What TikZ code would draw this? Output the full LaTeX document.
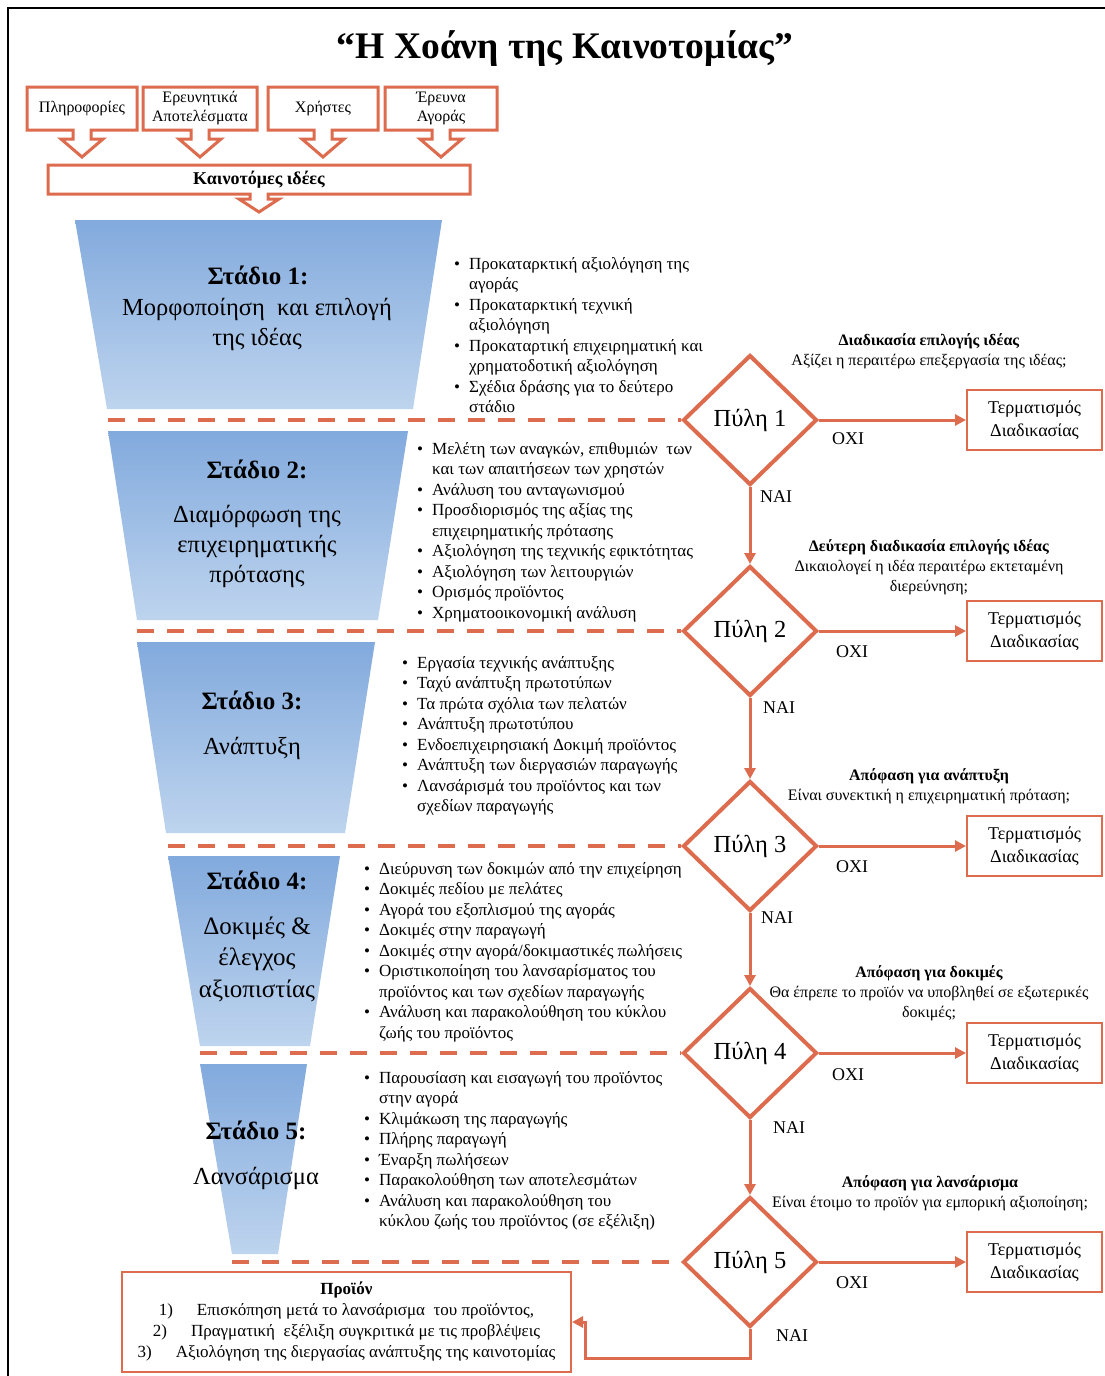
\documentclass[tikz,border=0pt]{standalone}
\usepackage{fontspec}
\setmainfont{Liberation Serif}
\usetikzlibrary{shapes.geometric,arrows.meta}
\definecolor{org}{RGB}{221,107,77}
\definecolor{btop}{RGB}{130,170,221}
\definecolor{bbot}{RGB}{190,212,238}
\newcommand{\mlc}[1]{\begin{tabular}[t]{@{}c@{}}#1\end{tabular}}
\newcommand{\bll}[1]{\begin{tabular}[t]{@{}l@{\hspace{9pt}}l@{}}#1\end{tabular}}
\newcommand{\tbx}[5]{% name, x1, x2, text, unused
  \node[toptext] (#1) at ({(#2+#3)/2},108.5) {\mlc{#4}};
  \draw[topbox] (#2,87) -- (#3,87) -- (#3,130) -- ({(#2+#3)/2+9},130) -- ({(#2+#3)/2+9},139)
    -- ({(#2+#3)/2+21},139) -- ({(#2+#3)/2},157) -- ({(#2+#3)/2-21},139) -- ({(#2+#3)/2-9},139)
    -- ({(#2+#3)/2-9},130) -- (#2,130) -- cycle;}
\tikzset{
  gate/.style={diamond, draw=org, line width=4pt, minimum width=134pt, minimum height=130pt,
    inner sep=0pt, font=\fontsize{24.5}{28}\selectfont},
  term/.style={draw=org, line width=2pt, minimum width=135pt, minimum height=60pt,
    inner sep=0pt, font=\fontsize{18}{23}\selectfont},
  conn/.style={draw=org, line width=3pt, -{Triangle[length=11pt,width=11pt]}},
  dashline/.style={draw=org, line width=4.5pt, dash pattern=on 17pt off 13pt},
  topbox/.style={draw=org, line width=3pt, line join=miter},
  toptext/.style={inner sep=0pt, font=\fontsize{16}{18.5}\selectfont},
  shead/.style={anchor=base, inner sep=0pt, font=\bfseries\fontsize{25}{30}\selectfont},
  sbody/.style={anchor=base, inner sep=0pt, font=\fontsize{24.5}{30}\selectfont},
  blist/.style={anchor=base west, inner sep=0pt, font=\fontsize{17}{20.5}\selectfont},
  dec/.style={anchor=base, inner sep=0pt, font=\fontsize{16}{20}\selectfont},
  yn/.style={inner sep=0pt, font=\fontsize{18}{20}\selectfont},
  funnel/.style={top color=btop, bottom color=bbot, draw=none}
}
\begin{document}
\begin{tikzpicture}[x=1pt,y=-1pt]
\useasboundingbox (0,0) rectangle (1105,1376);
\fill[white] (0,0) rectangle (1105,1376);
\draw[black, line width=2pt] (8,1376) -- (8,8) -- (1105,8);

% title
\node[inner sep=0pt, anchor=base, font=\bfseries\fontsize{37.5}{42}\selectfont] (title) at (565,58)
  {“Η Χοάνη της Καινοτομίας”};

% top boxes
\tbx{b1}{27}{137}{Πληροφορίες}{}
\tbx{b2}{143}{257}{Ερευνητικά\\Αποτελέσματα}{}
\tbx{b3}{268}{378}{Χρήστες}{}
\tbx{b4}{385}{497}{Έρευνα\\Αγοράς}{}
\node[inner sep=0pt, font=\bfseries\fontsize{18}{20}\selectfont] (ideas) at (259,180) {Καινοτόμες ιδέες};
\draw[topbox] (48,165) -- (470,165) -- (470,194) -- (268,194) -- (268,199) -- (279,199) -- (259,212)
  -- (239,199) -- (250,199) -- (250,194) -- (48,194) -- cycle;

% funnel stages
\shade[funnel] (75,220) -- (442,220) -- (413,409) -- (107,409) -- cycle;
\shade[funnel] (108,431) -- (408,431) -- (378,620) -- (137,620) -- cycle;
\shade[funnel] (137,642) -- (375,642) -- (345,833) -- (166,833) -- cycle;
\shade[funnel] (168,856) -- (340,856) -- (310,1046) -- (200,1046) -- cycle;
\shade[funnel] (200,1064) -- (307,1064) -- (278,1254) -- (232,1254) -- cycle;

\node[shead] (s1h) at (258,284) {Στάδιο 1:};
\node[sbody] (s1b) at (257,315) {\mlc{Μορφοποίηση\ \ και επιλογή\\της ιδέας}};
\node[shead] (s2h) at (257,478) {Στάδιο 2:};
\node[sbody] (s2b) at (257,522) {\mlc{Διαμόρφωση\ της\\επιχειρηματικής\\πρότασης}};
\node[shead] (s3h) at (252,709) {Στάδιο 3:};
\node[sbody] (s3b) at (252,754) {Ανάπτυξη};
\node[shead] (s4h) at (257,889) {Στάδιο 4:};
\node[sbody, font=\fontsize{25}{31.5}\selectfont] (s4b) at (257,934) {\mlc{Δοκιμές \&\\έλεγχος\\αξιοπιστίας}};
\node[shead] (s5h) at (256,1139) {Στάδιο 5:};
\node[sbody] (s5b) at (256,1184) {Λανσάρισμα};

% bullet lists
\node[blist] (l1) at (454,269) {\bll{%
 \textbullet & Προκαταρκτική αξιολόγηση της\\ & αγοράς\\
 \textbullet & Προκαταρκτική τεχνική\\ & αξιολόγηση\\
 \textbullet & Προκαταρτική επιχειρηματική και\\ & χρηματοδοτική αξιολόγηση\\
 \textbullet & Σχέδια δράσης για το δεύτερο\\ & στάδιο}};
\node[blist] (l2) at (417,454) {\bll{%
 \textbullet & Μελέτη των αναγκών, επιθυμιών\ \ των\\ & και των απαιτήσεων των χρηστών\\
 \textbullet & Ανάλυση\ του ανταγωνισμού\\
 \textbullet & Προσδιορισμός της αξίας της\\ & επιχειρηματικής πρότασης\\
 \textbullet & Αξιολόγηση της τεχνικής εφικτότητας\\
 \textbullet & Αξιολόγηση των λειτουργιών\\
 \textbullet & Ορισμός προϊόντος\\
 \textbullet & Χρηματοοικονομική ανάλυση}};
\node[blist] (l3) at (402,668) {\bll{%
 \textbullet & Εργασία τεχνικής ανάπτυξης\\
 \textbullet & Ταχύ ανάπτυξη πρωτοτύπων\\
 \textbullet & Τα πρώτα σχόλια των πελατών\\
 \textbullet & Ανάπτυξη πρωτοτύπου\\
 \textbullet & Ενδοεπιχειρησιακή Δοκιμή προϊόντος\\
 \textbullet & Ανάπτυξη των διεργασιών παραγωγής\\
 \textbullet & Λανσάρισμά του προϊόντος και των\\ & σχεδίων παραγωγής}};
\node[blist] (l4) at (364,874) {\bll{%
 \textbullet & Διεύρυνση των δοκιμών από την επιχείρηση\\
 \textbullet & Δοκιμές πεδίου με πελάτες\\
 \textbullet & Αγορά του εξοπλισμού της αγοράς\\
 \textbullet & Δοκιμές στην παραγωγή\\
 \textbullet & Δοκιμές στην αγορά/δοκιμαστικές πωλήσεις\\
 \textbullet & Οριστικοποίηση του λανσαρίσματος του\\ & προϊόντος και των σχεδίων παραγωγής\\
 \textbullet & Ανάλυση\ και παρακολούθηση του κύκλου\\ & ζωής του προϊόντος}};
\node[blist] (l5) at (364,1083) {\bll{%
 \textbullet & Παρουσίαση\ και εισαγωγή του προϊόντος\\ & στην αγορά\\
 \textbullet & Κλιμάκωση της παραγωγής\\
 \textbullet & Πλήρης παραγωγή\\
 \textbullet & Έναρξη πωλήσεων\\
 \textbullet & Παρακολούθηση των αποτελεσμάτων\\
 \textbullet & Ανάλυση και παρακολούθηση του\\ & κύκλου ζωής του προϊόντος (σε εξέλιξη)}};

% gates
\node[gate] (g1) at (750,420) {Πύλη 1};
\node[gate] (g2) at (750,631) {Πύλη 2};
\node[gate] (g3) at (750,846) {Πύλη 3};
\node[gate] (g4) at (750,1053) {Πύλη 4};
\node[gate] (g5) at (750,1262) {Πύλη 5};

% dashed separators
\coordinate (d1) at (108,420);
\coordinate (d2) at (137,631);
\coordinate (d3) at (168,846);
\coordinate (d4) at (200,1053);
\coordinate (d5) at (232,1262);
\foreach \i in {1,...,5} { \draw[dashline] (d\i) -- (g\i.west); }

% termination boxes
\foreach \i/\yy in {1/420,2/631,3/846,4/1053,5/1262} {
  \node[term] (t\i) at (1034.5,\yy) {\mlc{Τερματισμός\\Διαδικασίας}};
  \draw[conn] (g\i.east) -- (t\i.west);
}

% vertical flow
\draw[conn] (g1.south) -- (g2.north);
\draw[conn] (g2.south) -- (g3.north);
\draw[conn] (g3.south) -- (g4.north);
\draw[conn] (g4.south) -- (g5.north);

% yes / no labels
\node[yn] (n1) at (776,497) {ΝΑΙ};
\node[yn] (n2) at (779,708) {ΝΑΙ};
\node[yn] (n3) at (777,918) {ΝΑΙ};
\node[yn] (n4) at (789,1128) {ΝΑΙ};
\node[yn] (n5) at (792,1336) {ΝΑΙ};
\node[yn] (o1) at (848,439) {ΟΧΙ};
\node[yn] (o2) at (852,652) {ΟΧΙ};
\node[yn] (o3) at (852,867) {ΟΧΙ};
\node[yn] (o4) at (848,1075) {ΟΧΙ};
\node[yn] (o5) at (852,1283) {ΟΧΙ};

% decision texts
\node[dec] (q1) at (929,345) {\mlc{\textbf{Διαδικασία επιλογής ιδέας}\\Αξίζει η περαιτέρω επεξεργασία της ιδέας;}};
\node[dec] (q2) at (929,551) {\mlc{\textbf{Δεύτερη διαδικασία επιλογής ιδέας}\\Δικαιολογεί η ιδέα περαιτέρω εκτεταμένη\\διερεύνηση;}};
\node[dec] (q3) at (929,780) {\mlc{\textbf{Απόφαση για ανάπτυξη}\\Είναι συνεκτική η επιχειρηματική πρόταση;}};
\node[dec] (q4) at (929,977) {\mlc{\textbf{Απόφαση για δοκιμές}\\Θα έπρεπε το προϊόν να υποβληθεί σε εξωτερικές\\δοκιμές;}};
\node[dec] (q5) at (930,1187) {\mlc{\textbf{Απόφαση για λανσάρισμα}\\Είναι έτοιμο το προϊόν για εμπορική αξιοποίηση;}};

% product box
\node[draw=org, line width=2pt, minimum width=449pt, minimum height=100pt, inner sep=0pt,
  font=\fontsize{17}{21}\selectfont] (prod) at (346.5,1322) {\mlc{%
  \textbf{Προϊόν}\\
  1)\hspace{24pt}Επισκόπηση μετά το λανσάρισμα\ \ του προϊόντος,\\
  2)\hspace{24pt}Πραγματική\ \ εξέλιξη συγκριτικά με τις προβλέψεις\\
  3)\hspace{24pt}Αξιολόγηση της διεργασίας ανάπτυξης της καινοτομίας}};
\coordinate (pk) at (585,1322);
\draw[conn] (g5.south) -- ++(0,29) -| (pk) -- (prod.east);
\end{tikzpicture}
\end{document}
